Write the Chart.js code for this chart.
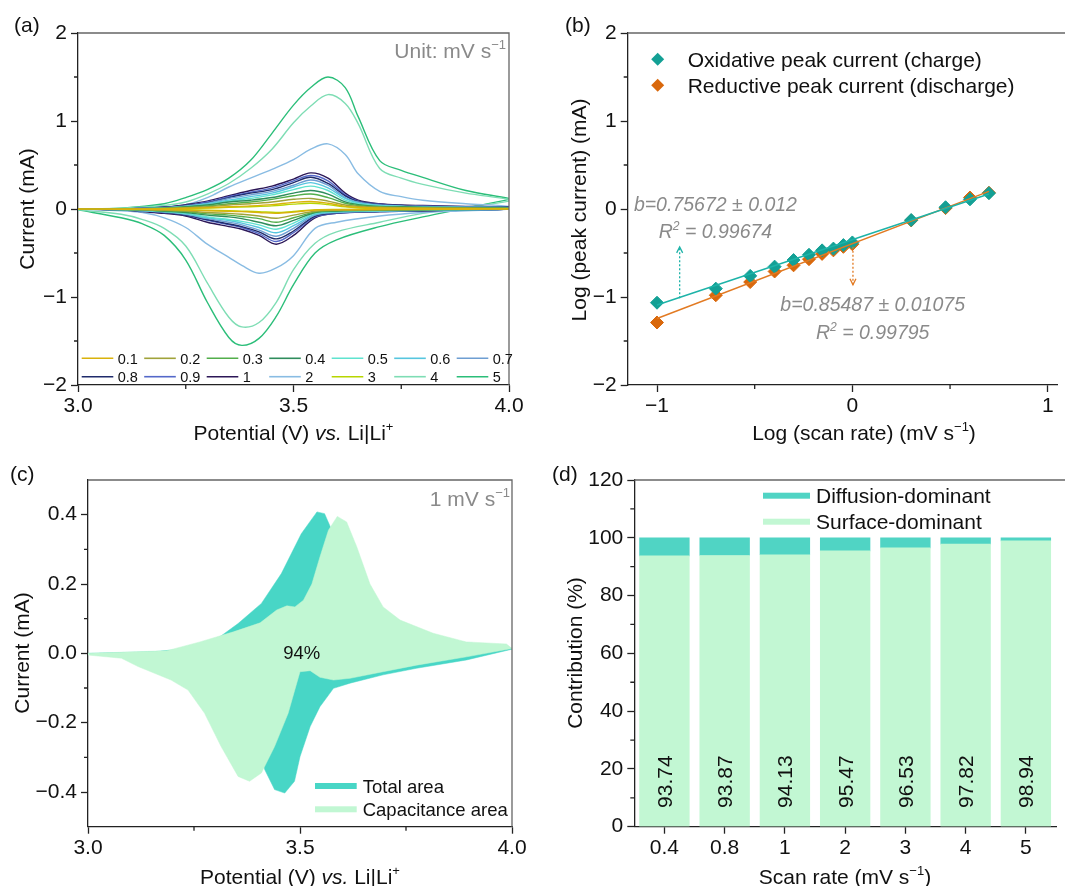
<!DOCTYPE html>
<html>
<head>
<meta charset="utf-8">
<script src="https://cdn.jsdelivr.net/npm/chart.js@4.4.1/dist/chart.umd.min.js"></script>
<style>
  body { margin: 0; background: #fff; width: 1065px; height: 886px; overflow: hidden; position: relative; }
  canvas { position: absolute; }
</style>
</head>
<body>
<canvas id="chartA"></canvas>
<canvas id="chartB"></canvas>
<canvas id="chartC"></canvas>
<canvas id="chartD"></canvas>
<script>
// ---------- data ----------

// (a) CV curves, one upper (oxidation) and one lower (reduction) branch per scan rate
const cvRates = ['0.1', '0.2', '0.3', '0.4', '0.5', '0.6', '0.7', '0.8', '0.9', '1', '2', '3', '4', '5'];
const cvColors = ['#D9B20B', '#A0A33A', '#52AE4B', '#2F8C5C', '#5FE3CF', '#56C6DF', '#6E9ED2',
                  '#1F2B6B', '#5468C9', '#2C1757', '#89BCE3', '#B7D600', '#7EDDB4', '#2BBE79'];
const cvUpperV = [3.0, 3.1, 3.2, 3.25, 3.3, 3.35, 3.4, 3.45, 3.5, 3.54, 3.58, 3.62, 3.65, 3.7, 3.75, 3.8, 3.9, 4.0];
const cvLowerV = [3.0, 3.1, 3.15, 3.2, 3.25, 3.3, 3.35, 3.38, 3.42, 3.46, 3.5, 3.55, 3.6, 3.7, 3.8, 3.9, 4.0];
const cvUpper = [
  [0, 0, 0.004, 0.008, 0.015, 0.025, 0.035, 0.05, 0.075, 0.085, 0.065, 0.03, 0.02, 0.012, 0.01, 0.008, 0.005, 0.003],
  [0, 0, 0.005, 0.015, 0.025, 0.045, 0.06, 0.08, 0.11, 0.12, 0.09, 0.045, 0.03, 0.02, 0.015, 0.01, 0.01, 0.005],
  [0, 0, 0.01, 0.02, 0.035, 0.06, 0.08, 0.11, 0.15, 0.17, 0.13, 0.065, 0.04, 0.025, 0.02, 0.015, 0.01, 0.01],
  [0, 0, 0.01, 0.025, 0.045, 0.08, 0.1, 0.13, 0.18, 0.21, 0.17, 0.08, 0.05, 0.03, 0.025, 0.02, 0.015, 0.01],
  [0, 0, 0.01, 0.03, 0.05, 0.09, 0.12, 0.16, 0.22, 0.26, 0.21, 0.1, 0.06, 0.035, 0.03, 0.02, 0.015, 0.01],
  [0, 0, 0.015, 0.03, 0.06, 0.1, 0.14, 0.18, 0.25, 0.3, 0.24, 0.12, 0.07, 0.04, 0.03, 0.025, 0.02, 0.015],
  [0, 0, 0.015, 0.035, 0.065, 0.12, 0.16, 0.2, 0.27, 0.33, 0.27, 0.13, 0.08, 0.045, 0.035, 0.03, 0.02, 0.015],
  [0, 0, 0.02, 0.04, 0.07, 0.13, 0.18, 0.22, 0.3, 0.36, 0.29, 0.15, 0.085, 0.05, 0.04, 0.03, 0.025, 0.02],
  [0, 0, 0.02, 0.04, 0.08, 0.14, 0.19, 0.24, 0.32, 0.38, 0.32, 0.16, 0.09, 0.055, 0.04, 0.035, 0.025, 0.02],
  [0, 0, 0.02, 0.05, 0.09, 0.15, 0.21, 0.26, 0.34, 0.41, 0.35, 0.18, 0.1, 0.06, 0.045, 0.04, 0.03, 0.02],
  [0, 0, 0.02, 0.05, 0.13, 0.25, 0.35, 0.45, 0.56, 0.68, 0.74, 0.62, 0.4, 0.2, 0.14, 0.1, 0.06, 0.03],
  [0, 0, 0.003, 0.006, 0.01, 0.018, 0.026, 0.036, 0.055, 0.065, 0.05, 0.025, 0.015, 0.01, 0.008, 0.006, 0.004, 0.002],
  [0, 0.01, 0.04, 0.08, 0.17, 0.29, 0.46, 0.68, 0.98, 1.17, 1.3, 1.2, 0.97, 0.46, 0.35, 0.28, 0.18, 0.11],
  [0, 0.01, 0.06, 0.13, 0.22, 0.35, 0.55, 0.86, 1.18, 1.38, 1.5, 1.38, 1.05, 0.55, 0.44, 0.36, 0.21, 0.12]
];
const cvLower = [
  [0, -0.002, -0.004, -0.007, -0.011, -0.02, -0.025, -0.03, -0.04, -0.05, -0.035, -0.012, -0.008, -0.005, -0.003, -0.002, 0],
  [0, -0.003, -0.008, -0.014, -0.022, -0.04, -0.05, -0.06, -0.08, -0.105, -0.07, -0.025, -0.015, -0.01, -0.006, -0.003, 0],
  [0, -0.005, -0.01, -0.02, -0.03, -0.055, -0.07, -0.085, -0.11, -0.15, -0.1, -0.035, -0.02, -0.012, -0.008, -0.004, 0],
  [0, -0.005, -0.01, -0.025, -0.04, -0.07, -0.09, -0.11, -0.15, -0.19, -0.13, -0.04, -0.025, -0.015, -0.01, -0.005, 0],
  [0, -0.005, -0.015, -0.03, -0.05, -0.09, -0.12, -0.14, -0.18, -0.23, -0.16, -0.05, -0.03, -0.02, -0.01, -0.005, 0],
  [0, -0.01, -0.02, -0.03, -0.055, -0.1, -0.13, -0.16, -0.21, -0.27, -0.19, -0.06, -0.035, -0.02, -0.015, -0.01, 0],
  [0, -0.01, -0.02, -0.035, -0.06, -0.11, -0.15, -0.18, -0.24, -0.31, -0.22, -0.07, -0.04, -0.025, -0.015, -0.01, 0],
  [0, -0.01, -0.02, -0.04, -0.07, -0.12, -0.17, -0.2, -0.26, -0.34, -0.25, -0.08, -0.045, -0.03, -0.02, -0.01, 0],
  [0, -0.01, -0.02, -0.04, -0.07, -0.13, -0.18, -0.21, -0.28, -0.37, -0.27, -0.09, -0.05, -0.03, -0.02, -0.01, 0],
  [0, -0.01, -0.03, -0.05, -0.08, -0.15, -0.2, -0.23, -0.3, -0.4, -0.3, -0.1, -0.05, -0.03, -0.02, -0.01, 0],
  [0, -0.02, -0.04, -0.1, -0.21, -0.4, -0.55, -0.64, -0.73, -0.67, -0.53, -0.22, -0.15, -0.08, -0.04, -0.02, 0],
  [0, -0.002, -0.003, -0.005, -0.008, -0.015, -0.02, -0.024, -0.03, -0.04, -0.028, -0.01, -0.006, -0.004, -0.002, -0.001, 0],
  [-0.01, -0.06, -0.12, -0.22, -0.42, -0.84, -1.23, -1.34, -1.29, -1.06, -0.69, -0.39, -0.26, -0.15, -0.05, 0.02, 0.09],
  [-0.01, -0.1, -0.17, -0.3, -0.58, -1.06, -1.46, -1.55, -1.47, -1.22, -0.86, -0.5, -0.35, -0.2, -0.09, 0.01, 0.11]
];

// (b) log(peak current) vs log(scan rate)
const logRate = [-1, -0.699, -0.523, -0.398, -0.301, -0.222, -0.155, -0.097, -0.046, 0, 0.301, 0.477, 0.602, 0.699];
const logOx   = [-1.065, -0.905, -0.76, -0.655, -0.58, -0.52, -0.47, -0.45, -0.41, -0.38, -0.125, 0.02, 0.11, 0.18];
const logRed  = [-1.29, -0.98, -0.83, -0.71, -0.64, -0.57, -0.51, -0.47, -0.43, -0.40, -0.13, 0.01, 0.13, 0.185];
const fitX = [-1, 0.699];
const fitOx = [-1.09, 0.17];
const fitRed = [-1.245, 0.2];

// (c) separated CV at 1 mV/s (closed loops)
const totalV = [3.0, 3.157, 3.236, 3.3, 3.354, 3.409, 3.456, 3.503, 3.54, 3.558, 3.575, 3.62, 3.66, 3.7, 3.8, 3.9, 4.0,
                4.0, 3.893, 3.775, 3.696, 3.618, 3.579, 3.547, 3.524, 3.5, 3.487, 3.464, 3.44, 3.417, 3.38, 3.3, 3.2, 3.1, 3.0];
const totalI = [0, 0.005, 0.014, 0.038, 0.086, 0.144, 0.23, 0.345, 0.408, 0.403, 0.355, 0.2, 0.1, 0.07, 0.045, 0.03, 0.015,
                0.012, -0.019, -0.043, -0.062, -0.086, -0.101, -0.154, -0.211, -0.298, -0.369, -0.403, -0.393, -0.336, -0.2, -0.06, -0.02, -0.008, -0.003];
const capV = [3.0, 3.186, 3.264, 3.343, 3.406, 3.445, 3.469, 3.488, 3.508, 3.528, 3.547, 3.567, 3.588, 3.61, 3.634, 3.665, 3.696, 3.736, 3.814, 3.892, 3.987, 4.0,
              3.893, 3.775, 3.696, 3.618, 3.579, 3.547, 3.524, 3.5, 3.472, 3.44, 3.409, 3.381, 3.354, 3.314, 3.275, 3.236, 3.196, 3.118, 3.079, 3.0];
const capI = [0, 0.0075, 0.033, 0.062, 0.088, 0.125, 0.137, 0.134, 0.153, 0.2, 0.278, 0.355, 0.395, 0.379, 0.307, 0.2, 0.134, 0.096, 0.058, 0.033, 0.027, 0.014,
              -0.01, -0.034, -0.053, -0.072, -0.077, -0.069, -0.05, -0.053, -0.173, -0.269, -0.345, -0.369, -0.355, -0.269, -0.173, -0.106, -0.077, -0.038, -0.014, -0.005];

// (d) contribution bars
const barRates = ['0.4', '0.8', '1', '2', '3', '4', '5'];
const surfacePct = [93.74, 93.87, 94.13, 95.47, 96.53, 97.82, 98.94];
const diffusionPct = [6.26, 6.13, 5.87, 4.53, 3.47, 2.18, 1.06];

// tick values
const ticksA = { x: [3.0, 3.5, 4.0], y: [-2, -1, 0, 1, 2], mx: [3.25, 3.75], my: [-1.5, -0.5, 0.5, 1.5] };
const ticksB = { x: [-1, 0, 1], y: [-2, -1, 0, 1, 2], mx: [-0.5, 0.5], my: [-1.5, -0.5, 0.5, 1.5] };
const ticksC = { x: [3.0, 3.5, 4.0], y: [-0.4, -0.2, 0, 0.2, 0.4], mx: [3.25, 3.75], my: [-0.3, -0.1, 0.1, 0.3] };
const ticksD = { y: [0, 20, 40, 60, 80, 100, 120], my: [10, 30, 50, 70, 90, 110] };

// ---------- helpers ----------
const FONT = '"Liberation Sans", Arial, sans-serif';
const GRAY = '#8a8a8a';
const FS = 21;
Chart.defaults.font.family = FONT;
Chart.defaults.font.size = FS;
Chart.defaults.color = '#111';

// draw text made of plain / italic / superscript pieces, centred vertically on y
function rich(ctx, parts, x, y, opt) {
  opt = opt || {};
  const size = opt.size || FS;
  const align = opt.align || 'center';
  ctx.save();
  ctx.fillStyle = opt.color || '#111';
  ctx.textBaseline = 'alphabetic';
  ctx.textAlign = 'left';
  ctx.translate(x, y);
  if (opt.rotate) ctx.rotate(opt.rotate);
  const segs = parts.map(p => {
    if (typeof p === 'string') p = { t: p };
    const s = p.sup ? size * 0.62 : size;
    const f = (p.i ? 'italic ' : '') + s + 'px ' + FONT;
    ctx.font = f;
    return { t: p.t, f: f, w: ctx.measureText(p.t).width, dy: p.sup ? -size * 0.4 : 0 };
  });
  const total = segs.reduce((a, s) => a + s.w, 0);
  let cx = align === 'center' ? -total / 2 : (align === 'right' ? -total : 0);
  const base = size * 0.36;
  segs.forEach(s => { ctx.font = s.f; ctx.fillText(s.t, cx, base + s.dy); cx += s.w; });
  ctx.restore();
}

const minus = v => String(v).replace('-', '\u2212');

function fitTo(size, horizontal) {
  return function (scale) {
    if (horizontal) scale.height = size; else scale.width = size;
    scale.paddingLeft = 0; scale.paddingRight = 0; scale.paddingTop = 0; scale.paddingBottom = 0;
  };
}

function linAxis(min, max, vals, fmt, size, horizontal) {
  return {
    type: 'linear', min: min, max: max,
    afterBuildTicks: s => { s.ticks = vals.map(v => ({ value: v })); },
    afterFit: fitTo(size, horizontal),
    ticks: { callback: fmt, padding: horizontal ? 2 : 4, color: '#111', font: { size: FS }, autoSkip: false, maxRotation: 0 },
    grid: { drawOnChartArea: false, drawTicks: true, tickLength: 7, tickColor: '#222', tickWidth: 1.3 },
    border: { display: true, color: '#222', width: 1.3 }
  };
}

// minor ticks and the top / right frame lines
function frame(chart, mx, my, closeRight) {
  const ctx = chart.ctx, a = chart.chartArea, x = chart.scales.x, y = chart.scales.y;
  ctx.save();
  ctx.strokeStyle = '#222';
  ctx.lineWidth = 1.3;
  ctx.beginPath();
  (mx || []).forEach(v => { const p = x.getPixelForValue(v); ctx.moveTo(p, a.bottom); ctx.lineTo(p, a.bottom + 4); });
  (my || []).forEach(v => { const p = y.getPixelForValue(v); ctx.moveTo(a.left, p); ctx.lineTo(a.left - 4, p); });
  ctx.stroke();
  ctx.strokeStyle = '#666';
  ctx.beginPath();
  ctx.moveTo(a.left, a.top);
  if (closeRight) { ctx.lineTo(a.right, a.top); ctx.lineTo(a.right, a.bottom); }
  else ctx.lineTo(chart.width, a.top);
  ctx.stroke();
  ctx.restore();
}

function place(id, pos, area) {
  const cv = document.getElementById(id);
  cv.width = pos.w; cv.height = pos.h;
  cv.style.left = pos.x + 'px'; cv.style.top = pos.y + 'px';
  cv.style.width = pos.w + 'px'; cv.style.height = pos.h + 'px';
  return {
    canvas: cv,
    padding: { left: 0, top: area.t - pos.y, right: pos.x + pos.w - area.r, bottom: 0 },
    yw: area.l - pos.x,
    xh: pos.y + pos.h - area.b
  };
}

const baseOpts = {
  responsive: false, animation: false, devicePixelRatio: 1,
  plugins: { legend: { display: false }, tooltip: { enabled: false } }
};

// ---------- (a) ----------
const posA = { x: 0, y: 0, w: 530, h: 452 };
const gA = place('chartA', posA, { l: 78, t: 33, r: 509, b: 385 });
const cvSets = cvRates.map((r, i) => ({
  label: r,
  data: cvUpperV.map((v, k) => ({ x: v, y: cvUpper[i][k] }))
    .concat(cvLowerV.map((v, k) => ({ x: v, y: cvLower[i][k] })).reverse()),
  borderColor: cvColors[i], borderWidth: 1.4, showLine: true, pointRadius: 0, tension: 0.35, fill: false
}));
new Chart(gA.canvas, {
  type: 'scatter',
  data: { datasets: cvSets },
  options: Object.assign({}, baseOpts, {
    layout: { padding: gA.padding },
    scales: {
      x: linAxis(3, 4, ticksA.x, v => v.toFixed(1), gA.xh, true),
      y: linAxis(-2, 2, ticksA.y, minus, gA.yw, false)
    }
  }),
  plugins: [{
    id: 'decoA',
    afterDraw(chart) {
      const ctx = chart.ctx, a = chart.chartArea;
      frame(chart, ticksA.mx, ticksA.my, true);
      // legend grid 7 x 2
      ctx.save();
      cvRates.forEach((r, i) => {
        const col = i % 7, row = Math.floor(i / 7);
        const lx = a.left + 3.7 + col * 62.5, ly = 358.3 + row * 18.4;
        ctx.strokeStyle = cvColors[i]; ctx.lineWidth = 1.6;
        ctx.beginPath(); ctx.moveTo(lx, ly); ctx.lineTo(lx + 31.6, ly); ctx.stroke();
        rich(ctx, [r], lx + 36, ly, { size: 14.5, align: 'left' });
      });
      ctx.restore();
      rich(ctx, ['Unit: mV s', { t: '\u22121', sup: true }], 506, 50, { color: GRAY, align: 'right' });
      rich(ctx, ['(a)'], 14, 24, { align: 'left' });
      rich(ctx, ['Potential (V) ', { t: 'vs.', i: true }, ' Li|Li', { t: '+', sup: true }], 293.5, 432);
      rich(ctx, ['Current (mA)'], 26.7, 209, { rotate: -Math.PI / 2 });
    }
  }]
});

// ---------- (b) ----------
const posB = { x: 530, y: 0, w: 535, h: 452 };
const gB = place('chartB', posB, { l: 627.7, t: 33, r: 1065, b: 385 });
const TEAL = '#13A095', ORANGE = '#D9680C';
new Chart(gB.canvas, {
  type: 'scatter',
  data: {
    datasets: [
      { label: 'fit ox', data: fitX.map((v, k) => ({ x: v, y: fitOx[k] })), showLine: true, borderColor: '#1DB3A8', borderWidth: 1.5, pointRadius: 0 },
      { label: 'fit red', data: fitX.map((v, k) => ({ x: v, y: fitRed[k] })), showLine: true, borderColor: '#E27A22', borderWidth: 1.5, pointRadius: 0 },
      { label: 'Oxidative peak current (charge)', data: logRate.map((v, k) => ({ x: v, y: logOx[k] })),
        pointStyle: 'rectRot', pointRadius: 6.5, backgroundColor: TEAL, borderColor: TEAL, borderWidth: 1 },
      { label: 'Reductive peak current (discharge)', data: logRate.map((v, k) => ({ x: v, y: logRed[k] })),
        pointStyle: 'rectRot', pointRadius: 6.5, backgroundColor: ORANGE, borderColor: ORANGE, borderWidth: 1 }
    ]
  },
  options: Object.assign({}, baseOpts, {
    layout: { padding: gB.padding },
    scales: {
      x: linAxis(-1.15, 1.05, ticksB.x, minus, gB.xh, true),
      y: linAxis(-2, 2, ticksB.y, minus, gB.yw, false)
    }
  }),
  plugins: [{
    id: 'decoB',
    afterDraw(chart) {
      const ctx = chart.ctx, x = chart.scales.x, y = chart.scales.y;
      frame(chart, ticksB.mx, ticksB.my, false);
      const X = v => x.getPixelForValue(v), Y = v => y.getPixelForValue(v);
      // dotted arrows
      function arrow(xv, y0, y1, color) {
        const px = X(xv), p0 = Y(y0), p1 = Y(y1), dir = p1 < p0 ? 1 : -1;
        ctx.save();
        ctx.strokeStyle = color; ctx.lineWidth = 1.3;
        ctx.setLineDash([2, 2]);
        ctx.beginPath(); ctx.moveTo(px, p0); ctx.lineTo(px, p1); ctx.stroke();
        ctx.setLineDash([]);
        ctx.beginPath();
        ctx.moveTo(px - 3, p1 + dir * 6); ctx.lineTo(px, p1); ctx.lineTo(px + 3, p1 + dir * 6);
        ctx.stroke();
        ctx.restore();
      }
      arrow(-0.884, -1.015, -0.43, '#1DB3A8');
      arrow(0.003, -0.43, -0.86, '#E27A22');
      const off = -posB.x;
      const ann = { color: GRAY, size: 19.5 };
      rich(ctx, [{ t: 'b=0.75672 \u00b1 0.012', i: true }], X(-0.701), Y(0.057), ann);
      rich(ctx, [{ t: 'R', i: true }, { t: '2', i: true, sup: true }, { t: ' = 0.99674', i: true }], X(-0.701), Y(-0.247), ann);
      rich(ctx, [{ t: 'b=0.85487 \u00b1 0.01075', i: true }], X(0.104), Y(-1.08), ann);
      rich(ctx, [{ t: 'R', i: true }, { t: '2', i: true, sup: true }, { t: ' = 0.99795', i: true }], X(0.104), Y(-1.394), ann);
      // legend
      [[TEAL, 'Oxidative peak current (charge)', 59.3], [ORANGE, 'Reductive peak current (discharge)', 85.3]].forEach(it => {
        ctx.save();
        ctx.fillStyle = it[0];
        ctx.beginPath();
        const cx = 657.7 + off, cy = it[2];
        ctx.moveTo(cx, cy - 6.5); ctx.lineTo(cx + 6.5, cy); ctx.lineTo(cx, cy + 6.5); ctx.lineTo(cx - 6.5, cy); ctx.closePath();
        ctx.fill();
        ctx.restore();
        rich(ctx, [it[1]], 687.7 + off, it[2], { align: 'left' });
      });
      rich(ctx, ['(b)'], 565 + off, 24, { align: 'left' });
      rich(ctx, ['Log (scan rate) (mV s', { t: '\u22121', sup: true }, ')'], 864 + off, 432);
      rich(ctx, ['Log (peak current) (mA)'], 578.5 + off, 210, { rotate: -Math.PI / 2 });
    }
  }]
});

// ---------- (c) ----------
const posC = { x: 0, y: 440, w: 530, h: 446 };
const gC = place('chartC', posC, { l: 88, t: 480, r: 512, b: 826.7 });
const CAP = '#C1F7D3', TOT = '#48D6C6';
new Chart(gC.canvas, {
  type: 'scatter',
  data: {
    datasets: [
      { label: 'Capacitance area', data: capV.map((v, k) => ({ x: v, y: capI[k] })), showLine: true,
        borderColor: CAP, borderWidth: 0.5, backgroundColor: CAP, fill: 'shape', pointRadius: 0, tension: 0 },
      { label: 'Total area', data: totalV.map((v, k) => ({ x: v, y: totalI[k] })), showLine: true,
        borderColor: TOT, borderWidth: 0.5, backgroundColor: TOT, fill: 'shape', pointRadius: 0, tension: 0 }
    ]
  },
  options: Object.assign({}, baseOpts, {
    layout: { padding: gC.padding },
    scales: {
      x: linAxis(3, 4, ticksC.x, v => v.toFixed(1), gC.xh, true),
      y: linAxis(-0.5, 0.5, ticksC.y, v => minus(v.toFixed(1)), gC.yw, false)
    }
  }),
  plugins: [{
    id: 'decoC',
    afterDraw(chart) {
      const ctx = chart.ctx, off = -posC.y;
      frame(chart, ticksC.mx, ticksC.my, true);
      rich(ctx, ['94%'], 301.7, 652.3 + off, { size: 18.5 });
      rich(ctx, ['1 mV s', { t: '\u22121', sup: true }], 510, 498 + off, { color: GRAY, align: 'right' });
      [[TOT, 'Total area', 786], [CAP, 'Capacitance area', 809.3]].forEach(it => {
        ctx.fillStyle = it[0];
        ctx.fillRect(315, it[2] + off - 3, 41.7, 6);
        rich(ctx, [it[1]], 362.7, it[2] + off, { size: 18.5, align: 'left' });
      });
      rich(ctx, ['(c)'], 10, 473 + off, { align: 'left' });
      rich(ctx, ['Potential (V) ', { t: 'vs.', i: true }, ' Li|Li', { t: '+', sup: true }], 300, 876 + off);
      rich(ctx, ['Current (mA)'], 21, 653 + off, { rotate: -Math.PI / 2 });
    }
  }]
});

// ---------- (d) ----------
const posD = { x: 530, y: 440, w: 535, h: 446 };
const gD = place('chartD', posD, { l: 634.3, t: 480, r: 1056, b: 826.7 });
const SURF = '#C2F7D3', DIFF = '#50D4C4';
const yD = linAxis(0, 120, ticksD.y, v => String(v), gD.yw, false);
yD.stacked = true;
new Chart(gD.canvas, {
  type: 'bar',
  data: {
    labels: barRates,
    datasets: [
      { label: 'Surface-dominant', data: surfacePct, backgroundColor: SURF, barThickness: 49.7 },
      { label: 'Diffusion-dominant', data: diffusionPct, backgroundColor: DIFF, barThickness: 49.7 }
    ]
  },
  options: Object.assign({}, baseOpts, {
    layout: { padding: gD.padding },
    scales: {
      x: {
        type: 'category', stacked: true, offset: true,
        afterFit: fitTo(gD.xh, true),
        ticks: { padding: 2, color: '#111', font: { size: FS }, maxRotation: 0 },
        grid: { offset: false, drawOnChartArea: false, drawTicks: true, tickLength: 7, tickColor: '#222', tickWidth: 1.3 },
        border: { display: true, color: '#222', width: 1.3 }
      },
      y: yD
    }
  }),
  plugins: [{
    id: 'decoD',
    afterDraw(chart) {
      const ctx = chart.ctx, off = { x: -posD.x, y: -posD.y };
      frame(chart, [], ticksD.my, false);
      const meta = chart.getDatasetMeta(0);
      const yPix = chart.scales.y.getPixelForValue(15.6);
      meta.data.forEach((bar, i) => {
        rich(ctx, [surfacePct[i].toFixed(2)], bar.x, yPix, { rotate: -Math.PI / 2 });
      });
      [[DIFF, 'Diffusion-dominant', 495.7], [SURF, 'Surface-dominant', 521.7]].forEach(it => {
        ctx.fillStyle = it[0];
        ctx.fillRect(763 + off.x, it[2] + off.y - 3, 47, 6);
        rich(ctx, [it[1]], 816 + off.x, it[2] + off.y, { align: 'left' });
      });
      rich(ctx, ['(d)'], 552 + off.x, 473 + off.y, { align: 'left' });
      rich(ctx, ['Scan rate (mV s', { t: '\u22121', sup: true }, ')'], 845 + off.x, 876 + off.y);
      rich(ctx, ['Contribution (%)'], 574 + off.x, 653 + off.y, { rotate: -Math.PI / 2 });
    }
  }]
});
</script>
</body>
</html>
